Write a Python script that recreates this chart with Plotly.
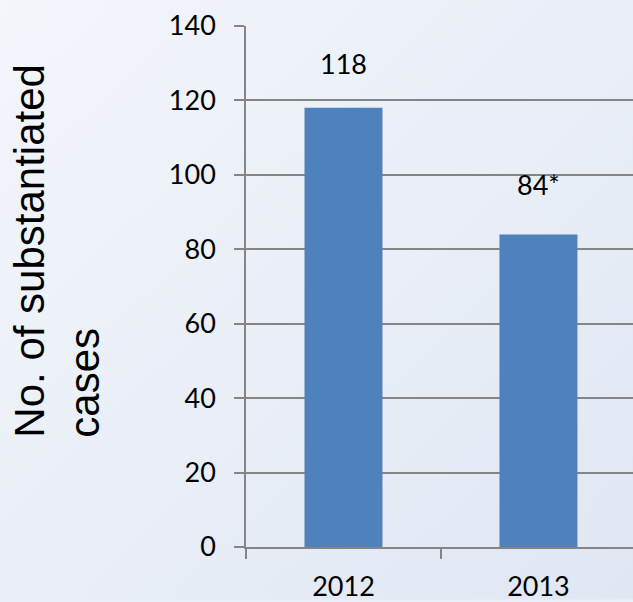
import base64
import plotly.graph_objects as go

# ---- data ----
categories = ["2012", "2013"]
values = [118, 84]
labels = ["118", "84*"]
y_ticks = [0, 20, 40, 60, 80, 100, 120, 140]
y_title = "No. of substantiated<br>cases"

# ---- style ----
W, H = 633, 602
ML, MR, MT, MB = 246, 0, 26, 53
PW, PH = W - ML - MR, H - MT - MB
BAR = "#4F81BD"
GRID = "#858585"
label_shift = [44, 50]

svg = (
    '<svg xmlns="http://www.w3.org/2000/svg" width="633" height="602">'
    '<defs><linearGradient id="g" x1="0" y1="0" x2="1" y2="1">'
    '<stop offset="0" stop-color="#F3F6FB"/>'
    '<stop offset="1" stop-color="#E0E7F3"/>'
    '</linearGradient></defs>'
    '<rect width="633" height="602" fill="url(#g)"/></svg>'
)
bg_uri = "data:image/svg+xml;base64," + base64.b64encode(svg.encode()).decode()

fig = go.Figure(
    go.Bar(x=categories, y=values, marker=dict(color=BAR, line=dict(width=0)), width=0.4)
)

for i, (v, t, s) in enumerate(zip(values, labels, label_shift)):
    fig.add_annotation(
        x=i, y=v, text=t, showarrow=False, yshift=s, yanchor="middle",
        font=dict(family="Lato", size=27, color="#000000"),
    )

fig.add_annotation(
    xref="paper", yref="paper",
    x=(57 - ML) / PW, y=(MT + PH - 251.5) / PH,
    text=y_title, textangle=-90, align="left", showarrow=False,
    xanchor="center", yanchor="middle",
    font=dict(family="Liberation Sans, Arial", size=42, color="#000000"),
)

fig.update_layout(
    width=W, height=H,
    margin=dict(l=ML, r=MR, t=MT, b=MB, pad=0),
    paper_bgcolor="#EAF0F8",
    plot_bgcolor="rgba(0,0,0,0)",
    showlegend=False,
    images=[dict(
        source=bg_uri, xref="paper", yref="paper",
        x=-ML / PW, y=1 + MT / PH, sizex=W / PW, sizey=H / PH,
        xanchor="left", yanchor="top", sizing="stretch", layer="below",
    )],
    xaxis=dict(
        type="category", range=[-0.5, 1.485],
        showline=True, linecolor=GRID, linewidth=1.5,
        ticks="outside", tickson="boundaries", ticklen=10, tickwidth=1.5, tickcolor=GRID,
        showgrid=False, ticklabelstandoff=15,
        tickfont=dict(family="Lato", size=27, color="#000000"),
    ),
    yaxis=dict(
        range=[0, 140], tickvals=y_ticks,
        showline=True, linecolor=GRID, linewidth=1.5,
        ticks="outside", ticklen=10, tickwidth=1.5, tickcolor=GRID,
        showgrid=True, gridcolor=GRID, gridwidth=1.5, zeroline=False,
        ticklabelstandoff=13,
        tickfont=dict(family="Lato", size=27, color="#000000"),
    ),
)

fig.write_html("out.html")
